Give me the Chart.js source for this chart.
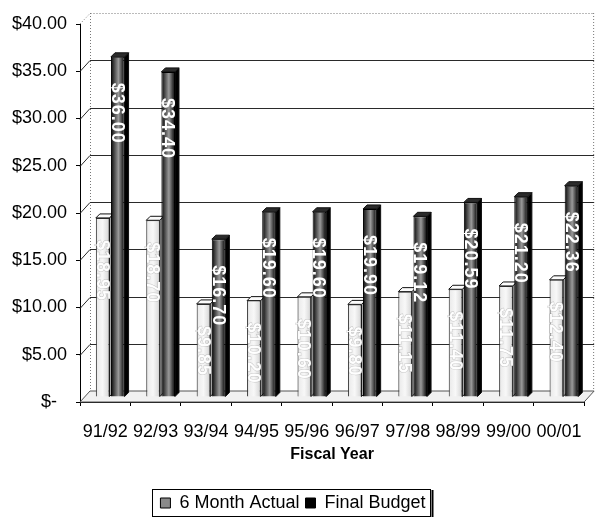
<!DOCTYPE html>
<html>
<head>
<meta charset="utf-8">
<title>Fiscal Year Budget</title>
<style>
  html, body { margin: 0; padding: 0; background: #ffffff; overflow: hidden; }
  #wrap { width: 597px; height: 518px; overflow: hidden; }
</style>
<script src="https://cdn.jsdelivr.net/npm/chart.js@4.4.1/dist/chart.umd.min.js"></script>
</head>
<body>
<div id="wrap"><canvas id="budgetChart" width="597" height="522"></canvas></div>
<script>
// ---- data ----
const fiscalYears = ['91/92', '92/93', '93/94', '94/95', '95/96', '96/97', '97/98', '98/99', '99/00', '00/01'];
const sixMonthActual = [18.95, 18.70, 9.85, 10.20, 10.60, 9.80, 11.15, 11.40, 11.75, 12.40];
const finalBudget = [36.00, 34.40, 16.70, 19.60, 19.60, 19.90, 19.12, 20.59, 21.20, 22.36];
const yTickValues = [0, 5, 10, 15, 20, 25, 30, 35, 40];
const yTickLabels = ['$-  ', '$5.00', '$10.00', '$15.00', '$20.00', '$25.00', '$30.00', '$35.00', '$40.00'];

// ---- pseudo 3D geometry ----
const WALL = { dx: 10, dy: -11 };   // back wall offset from the front plane
const SHIFT = { dx: 5, dy: -5 };    // bars sit midway between front and back
const DEPTH = 4;                    // bar depth (cap / side faces)

const FONT = "'Liberation Sans', Arial, Helvetica, sans-serif";
const NARROW = "'Liberation Sans Narrow', 'Arial Narrow', 'Liberation Sans', Arial, sans-serif";

const lightStops = [[0, '#a0a0a0'], [0.12, '#ececec'], [0.5, '#f8f8f8'], [0.85, '#dedede'], [1, '#bdbdbd']];
const darkStops = [[0, '#050505'], [0.2, '#3c3c3c'], [0.55, '#9a9a9a'], [0.85, '#333333'], [1, '#050505']];

function money(v) { return '$' + v.toFixed(2); }

// horizontal "cylinder" shading across each bar's front face
function shade(stops, fallback) {
  return c => {
    const el = c.element;
    if (!el || !Number.isFinite(el.x) || !Number.isFinite(el.width)) return fallback;
    const g = c.chart.ctx.createLinearGradient(el.x - el.width / 2, 0, el.x + el.width / 2, 0);
    stops.forEach(([o, col]) => g.addColorStop(o, col));
    return g;
  };
}

function poly(ctx, pts) {
  ctx.beginPath();
  ctx.moveTo(pts[0][0], pts[0][1]);
  for (let i = 1; i < pts.length; i++) ctx.lineTo(pts[i][0], pts[i][1]);
  ctx.closePath();
}

const depthPlugin = {
  id: 'depth3d',
  beforeDatasetsDraw(chart) {
    const { ctx, chartArea: a, scales: { y } } = chart;
    ctx.save();
    // floor
    poly(ctx, [[a.left, a.bottom], [a.right, a.bottom], [a.right + WALL.dx, a.bottom + WALL.dy], [a.left + WALL.dx, a.bottom + WALL.dy]]);
    ctx.fillStyle = '#f1f1f1';
    ctx.fill();
    ctx.strokeStyle = '#555';
    ctx.lineWidth = 1;
    ctx.stroke();

    // back wall edges (dotted)
    const topY = y.getPixelForValue(40) + WALL.dy;
    const botY = a.bottom + WALL.dy;
    ctx.setLineDash([1, 2]);
    ctx.strokeStyle = '#777';
    ctx.beginPath();
    ctx.moveTo(a.left + WALL.dx + 0.5, topY);
    ctx.lineTo(a.left + WALL.dx + 0.5, botY);
    ctx.moveTo(a.right + WALL.dx - 0.5, topY);
    ctx.lineTo(a.right + WALL.dx - 0.5, botY);
    ctx.moveTo(a.left, y.getPixelForValue(40));
    ctx.lineTo(a.left + WALL.dx, topY + 0.5);
    ctx.lineTo(a.right + WALL.dx, topY + 0.5);
    ctx.stroke();
    ctx.setLineDash([]);

    // grid lines: short diagonal from the axis, then across the back wall
    ctx.strokeStyle = '#2a2a2a';
    y.ticks.forEach(t => {
      if (t.value === 0 || t.value === 40) return;
      const py = Math.round(y.getPixelForValue(t.value)) + 0.5;
      ctx.beginPath();
      ctx.moveTo(a.left, py);
      ctx.lineTo(a.left + WALL.dx, py + WALL.dy);
      ctx.lineTo(a.right + WALL.dx, py + WALL.dy);
      ctx.stroke();
    });
    ctx.restore();

    // bars are drawn one step back from the front plane
    ctx.save();
    ctx.translate(SHIFT.dx, SHIFT.dy);

    // side and top faces go first so the neighbouring front faces cover them
    chart.data.datasets.forEach((ds, di) => {
      const dark = di === 1;
      chart.getDatasetMeta(di).data.forEach(el => {
        const x0 = el.x - el.width / 2, x1 = el.x + el.width / 2;
        const yt = el.y, yb = el.base;
        poly(ctx, [[x1, yt], [x1 + DEPTH, yt - DEPTH], [x1 + DEPTH, yb - DEPTH], [x1, yb]]);
        ctx.fillStyle = dark ? '#000000' : '#a9a9a9';
        ctx.fill();
        ctx.strokeStyle = '#111';
        ctx.lineWidth = 1;
        ctx.stroke();
        poly(ctx, [[x0, yt], [x1, yt], [x1 + DEPTH, yt - DEPTH], [x0 + DEPTH, yt - DEPTH]]);
        ctx.fillStyle = dark ? '#2b2b2b' : '#fbfbfb';
        ctx.fill();
        ctx.stroke();
      });
    });
  },
  afterDatasetsDraw(chart) {
    const { ctx } = chart;
    // value labels, written downward inside each bar
    chart.data.datasets.forEach((ds, di) => {
      const dark = di === 1;
      chart.getDatasetMeta(di).data.forEach((el, i) => {
        const text = money(ds.data[i]);
        ctx.save();
        ctx.translate(el.x, el.y + (dark ? 26 : 22));
        ctx.rotate(Math.PI / 2);
        ctx.font = 'bold 18px ' + FONT;
        ctx.textAlign = 'left';
        ctx.textBaseline = 'middle';
        if ('letterSpacing' in ctx) ctx.letterSpacing = '1px';
        if (dark) {
          ctx.fillStyle = '#ffffff';
          ctx.fillText(text, 0, 1);
        } else {
          ctx.lineWidth = 1;
          ctx.strokeStyle = 'rgba(110,110,110,0.35)';
          ctx.strokeText(text, 0, 1);
          ctx.fillStyle = 'rgba(255,255,255,0.95)';
          ctx.fillText(text, 0, 1);
        }
        ctx.restore();
      });
    });
    ctx.restore();
  },
  afterDraw(chart) {
    // frame around the legend
    const lg = chart.legend;
    if (!lg || !lg.legendHitBoxes || !lg.legendHitBoxes.length) return;
    const hb = lg.legendHitBoxes;
    const left = Math.min(...hb.map(h => h.left)) - 8;
    const right = Math.max(...hb.map(h => h.left + h.width)) + 5;
    const top = Math.min(...hb.map(h => h.top)) - 5;
    const bottom = Math.max(...hb.map(h => h.top + h.height)) + 4;
    const { ctx } = chart;
    ctx.save();
    ctx.strokeStyle = '#000';
    ctx.lineWidth = 1;
    ctx.strokeRect(Math.round(left) + 0.5, Math.round(top) + 0.5, Math.round(right - left), Math.round(bottom - top));
    ctx.lineWidth = 2;
    ctx.beginPath();
    ctx.moveTo(Math.round(right) + 1.5, Math.round(top) + 1);
    ctx.lineTo(Math.round(right) + 1.5, Math.round(bottom) + 1);
    ctx.stroke();
    ctx.restore();
  }
};

const chart = new Chart(document.getElementById('budgetChart'), {
  type: 'bar',
  data: {
    labels: fiscalYears,
    datasets: [
      {
        label: '6 Month Actual',
        data: sixMonthActual,
        backgroundColor: shade(lightStops, '#e4e4e4'),
        borderColor: '#2a2a2a',
        borderWidth: 1,
        borderSkipped: 'bottom',
        categoryPercentage: 0.6,
        barPercentage: 0.9,
        clip: false
      },
      {
        label: 'Final Budget',
        data: finalBudget,
        backgroundColor: shade(darkStops, '#3a3a3a'),
        borderColor: '#000',
        borderWidth: 1,
        borderSkipped: 'bottom',
        categoryPercentage: 0.6,
        barPercentage: 0.9,
        clip: false
      }
    ]
  },
  options: {
    responsive: false,
    animation: false,
    devicePixelRatio: 1,
    layout: { padding: { top: 24, right: 11, left: 0, bottom: 0 } },
    scales: {
      x: {
        grid: { display: true, drawOnChartArea: false, drawTicks: true, tickLength: 4, color: '#000' },
        border: { display: true, color: '#000', width: 1 },
        ticks: { color: '#000', font: { family: NARROW, size: 18 }, padding: 15, maxRotation: 0, autoSkip: false },
        title: {
          display: true, text: 'Fiscal Year', color: '#000',
          font: { family: FONT, size: 16, weight: 'bold' },
          padding: { top: 0, bottom: 24 }
        },
        afterFit: s => { s.height = 86; }
      },
      y: {
        min: 0,
        max: 40,
        ticks: {
          stepSize: 5,
          color: '#000',
          font: { family: FONT, size: 18 },
          padding: 9,
          callback: v => yTickLabels[yTickValues.indexOf(v)]
        },
        grid: { display: true, drawOnChartArea: false, drawTicks: true, tickLength: 4, color: '#000' },
        border: { display: true, color: '#000', width: 1 },
        afterFit: s => { s.width = 80; }
      }
    },
    plugins: {
      legend: {
        position: 'bottom',
        labels: {
          color: '#000',
          font: { family: FONT, size: 18 },
          boxWidth: 10,
          boxHeight: 10,
          padding: 6,
          generateLabels: ch => ch.data.datasets.map((d, i) => ({
            text: d.label,
            fillStyle: i === 1 ? '#000000' : '#8a8a8a',
            strokeStyle: '#000',
            lineWidth: 1,
            fontColor: '#000',
            hidden: false,
            datasetIndex: i
          }))
        }
      },
      tooltip: { enabled: false }
    }
  },
  plugins: [depthPlugin]
});

// second pass so the face shading is built from the laid-out bar positions
chart.update('none');
</script>
</body>
</html>
